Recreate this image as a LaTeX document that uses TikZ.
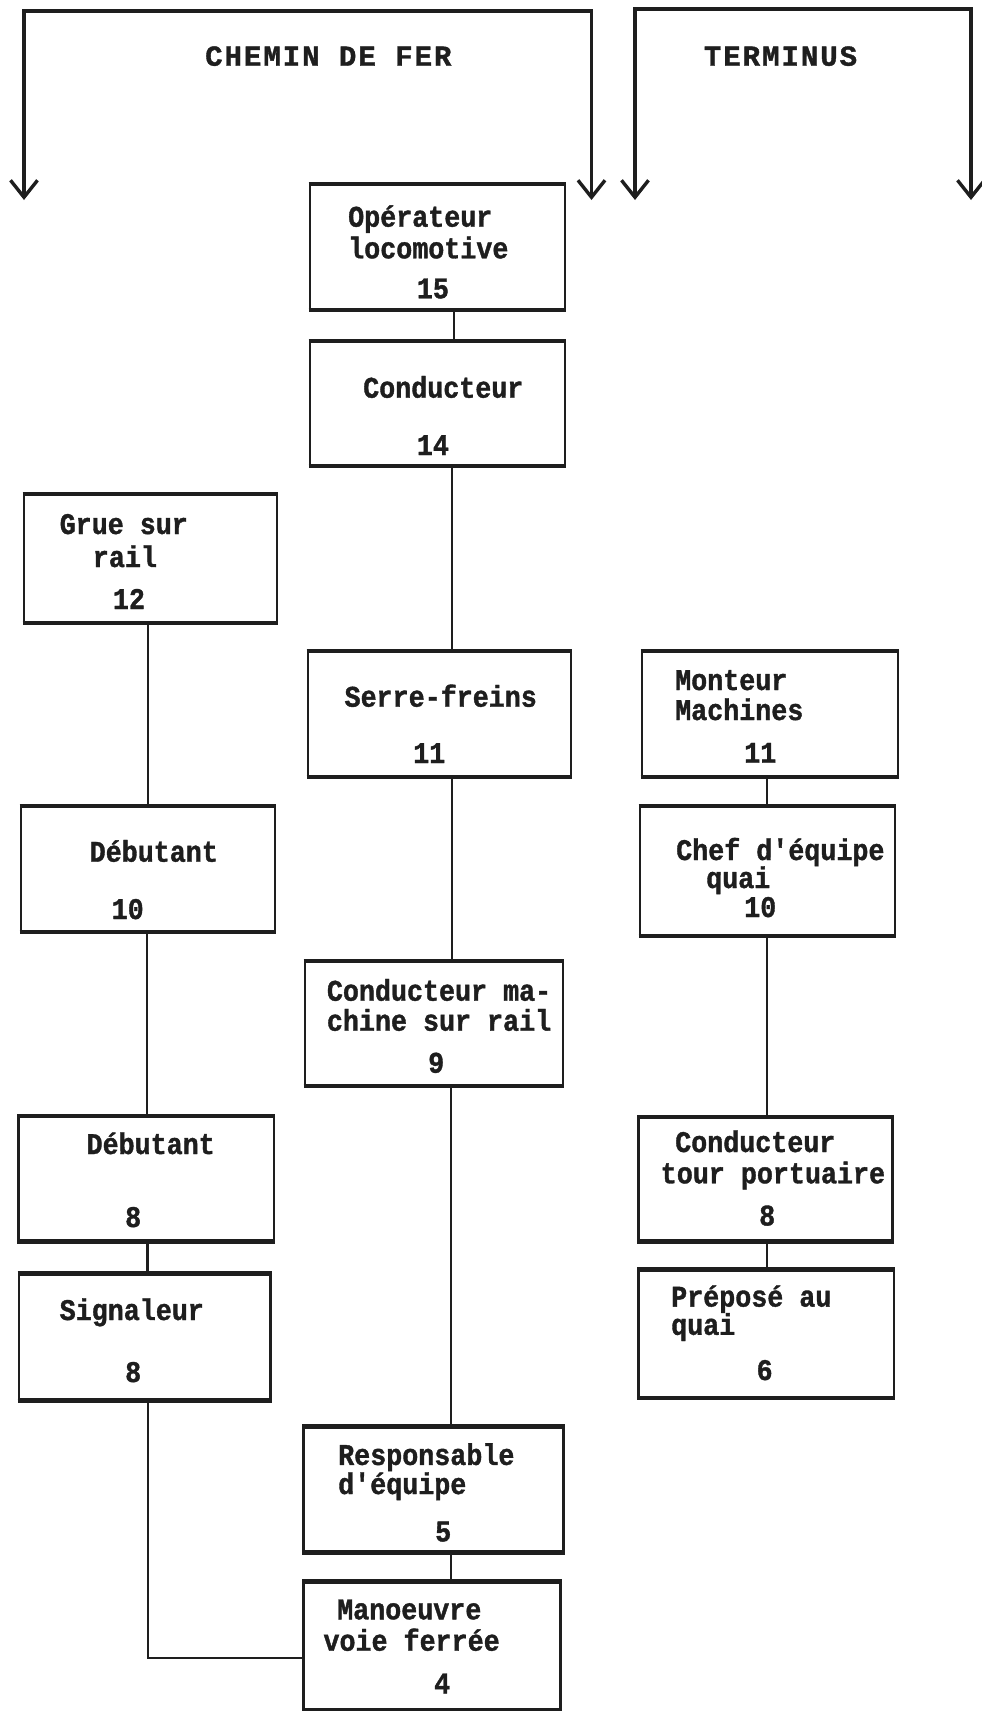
\documentclass[tikz,border=0pt]{standalone}
\usepackage{fontspec}
\usetikzlibrary{arrows.meta,fit}
\newfontfamily\twfont{Liberation Mono}[BoldFeatures={FakeStretch=0.89,FakeBold=1.2}]
\newfontfamily\twtitle{Liberation Mono}[BoldFeatures={LetterSpace=6.9,FakeBold=1.2}]
\definecolor{ink}{RGB}{30,30,30}
\tikzset{
  box/.style={draw=ink, line width=2.6pt, inner sep=0pt, fill=none},
  hl/.style={draw=ink, line width=4.2pt},
  lbl/.style={inner sep=0pt, anchor=base west, text=ink, font=\twfont\bfseries\fontsize{30}{32}\selectfont},
  ttl/.style={inner sep=0pt, anchor=base west, text=ink, font=\twtitle\bfseries\fontsize{29}{32}\selectfont},
  link/.style={draw=ink, line width=2.4pt},
  brk/.style={draw=ink, line width=3.4pt, line join=miter, {Straight Barb[length=17pt,width=27pt]}-{Straight Barb[length=17pt,width=27pt]}}
}
\begin{document}
\begin{tikzpicture}[x=1pt,y=-1pt]
\useasboundingbox (0,0) rectangle (982,1711);
\fill[white] (0,0) rectangle (982,1711);

% brackets
\coordinate (la) at (24,200);
\coordinate (lb) at (24,11);
\coordinate (lc) at (591.5,11);
\coordinate (ld) at (591.5,200);
\coordinate (ra) at (635,200);
\coordinate (rb) at (635,9);
\coordinate (rc) at (971,9);
\coordinate (rd) at (971,200);
\draw[brk] (la) -- (lb) -- (lc) -- (ld);
\draw[brk] (ra) -- (rb) -- (rc) -- (rd);
\node[ttl] (tcf) at (205,65.7) {CHEMIN DE FER};
\node[ttl] (tterm) at (703.7,65.7) {TERMINUS};

% boxes
\node[box, fit={(310,185) (565,309)}] (b1) {};
\node[box, fit={(310,342) (565,465)}] (b2) {};
\node[box, fit={(24,495) (277,622)}] (b3) {};
\node[box, fit={(308,652) (571,776)}] (b4) {};
\node[box, fit={(642,652) (898,776)}] (b5) {};
\node[box, fit={(21,807) (275,931)}] (b6) {};
\node[box, fit={(640,807) (895,935)}] (b7) {};
\node[box, fit={(305,962) (563,1085)}] (b8) {};
\node[box, fit={(18.5,1117) (274,1240.6)}] (b9) {};
\node[box, fit={(18.8,1274.5) (270.5,1399.7)}] (b10) {};
\node[box, fit={(638.7,1118) (892.3,1240.6)}] (b11) {};
\node[box, fit={(638.7,1270.8) (894,1397)}] (b12) {};
\node[box, fit={(303.7,1427.2) (563.6,1551.6)}] (b13) {};
\node[box, fit={(303.5,1582.8) (560.2,1709.5)}] (b14) {};
\foreach \n in {b1,b2,b3,b4,b5,b6,b7,b8,b9,b10,b11,b12,b13,b14}{
  \draw[hl] (\n.north west) -- (\n.north east);
  \draw[hl] (\n.south west) -- (\n.south east);
}

% texts
\node[lbl] (b1a) at (348,226.7) {Opérateur};
\node[lbl] (b1b) at (348,258.3) {locomotive};
\node[lbl] (b1c) at (416.7,298.3) {15};
\node[lbl] (b2a) at (363,397.7) {Conducteur};
\node[lbl] (b2c) at (416.7,455) {14};
\node[lbl] (b3a) at (59.5,534) {Grue sur};
\node[lbl] (b3b) at (92.7,567) {rail};
\node[lbl] (b3c) at (112.7,609) {12};
\node[lbl] (b4a) at (344.4,706.7) {Serre-freins};
\node[lbl] (b4c) at (413,763) {11};
\node[lbl] (b5a) at (675,690) {Monteur};
\node[lbl] (b5b) at (675,720) {Machines};
\node[lbl] (b5c) at (744,762.7) {11};
\node[lbl] (b6a) at (89.5,861.7) {Débutant};
\node[lbl] (b6c) at (111.5,919) {10};
\node[lbl] (b7a) at (676,860) {Chef d'équipe};
\node[lbl] (b7b) at (706,888) {quai};
\node[lbl] (b7c) at (744,917) {10};
\node[lbl] (b8a) at (326.7,1000.7) {Conducteur ma-};
\node[lbl] (b8b) at (326.7,1030.7) {chine sur rail};
\node[lbl] (b8c) at (428,1072.7) {9};
\node[lbl] (b9a) at (86.4,1154) {Débutant};
\node[lbl] (b9c) at (125,1227) {8};
\node[lbl] (b10a) at (59.5,1320) {Signaleur};
\node[lbl] (b10c) at (125,1382) {8};
\node[lbl] (b11a) at (675,1152) {Conducteur};
\node[lbl] (b11b) at (660.6,1183.3) {tour portuaire};
\node[lbl] (b11c) at (759,1225.5) {8};
\node[lbl] (b12a) at (671,1306.6) {Préposé au};
\node[lbl] (b12b) at (671,1334.8) {quai};
\node[lbl] (b12c) at (756.4,1380) {6};
\node[lbl] (b13a) at (338,1464.9) {Responsable};
\node[lbl] (b13b) at (338,1494) {d'équipe};
\node[lbl] (b13c) at (435,1541.4) {5};
\node[lbl] (b14a) at (337,1619.3) {Manoeuvre};
\node[lbl] (b14b) at (323.3,1650.7) {voie ferrée};
\node[lbl] (b14c) at (434,1693.3) {4};

% connectors
\draw[link] (b1.south -| 454,0) -- (b2.north -| 454,0);
\draw[link] (b2.south -| 452,0) -- (b4.north -| 452,0);
\draw[link] (b4.south -| 452,0) -- (b8.north -| 452,0);
\draw[link] (b8.south -| 451,0) -- (b13.north -| 451,0);
\draw[link] (b13.south -| 451,0) -- (b14.north -| 451,0);
\draw[link] (b3.south -| 148,0) -- (b6.north -| 148,0);
\draw[link] (b6.south -| 147,0) -- (b9.north -| 147,0);
\draw[link] (b9.south -| 147.5,0) -- (b10.north -| 147.5,0);
\draw[link] (b10.south -| 147.8,0) |- (b14.west |- 0,1657.7);
\draw[link] (b5.south -| 767,0) -- (b7.north -| 767,0);
\draw[link] (b7.south -| 767,0) -- (b11.north -| 767,0);
\draw[link] (b11.south -| 767,0) -- (b12.north -| 767,0);
\end{tikzpicture}
\end{document}
